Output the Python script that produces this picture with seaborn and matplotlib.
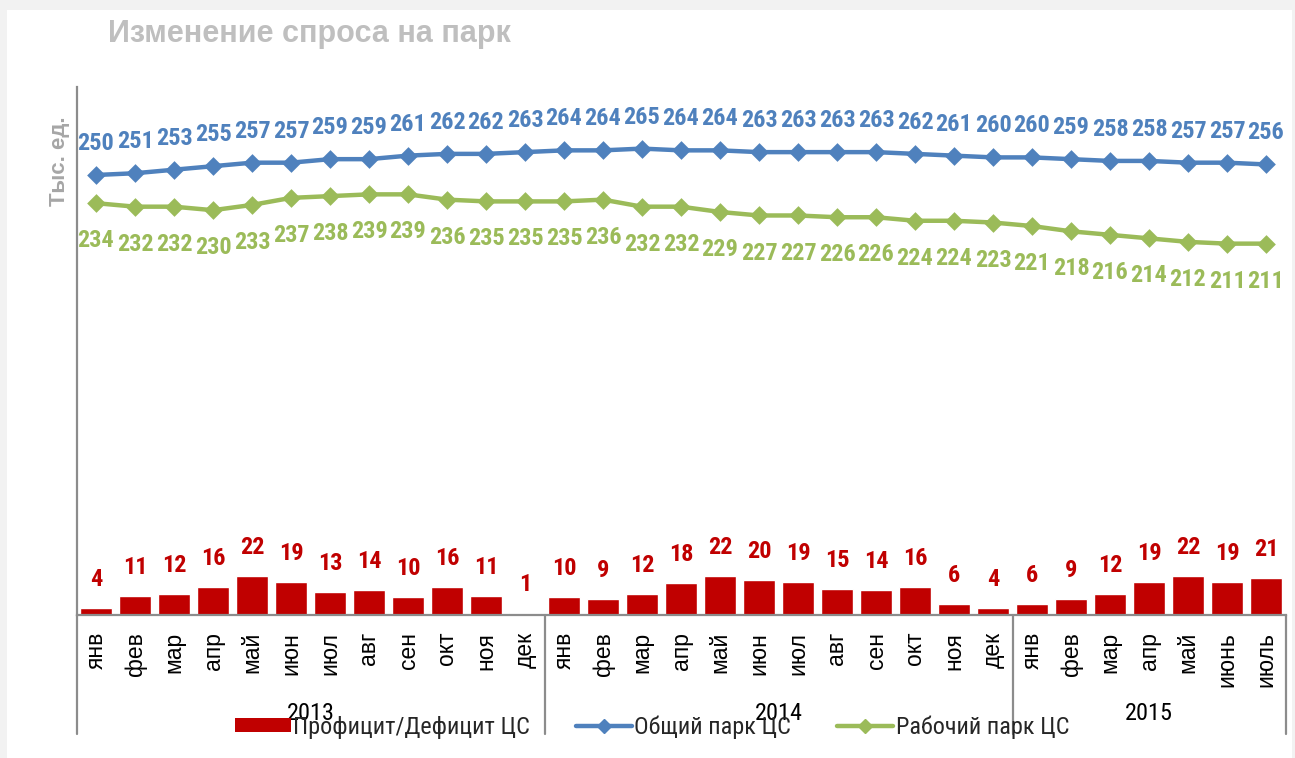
import matplotlib
matplotlib.use('Agg')
import matplotlib.pyplot as plt
from matplotlib.patches import Rectangle, Patch
from matplotlib.lines import Line2D
from matplotlib.transforms import blended_transform_factory
import pandas as pd
import seaborn as sns

# Data
years = ['2013', '2014', '2015']
months_2013 = ['янв', 'фев', 'мар', 'апр', 'май', 'июн', 'июл', 'авг', 'сен', 'окт', 'ноя', 'дек']
months_2014 = ['янв', 'фев', 'мар', 'апр', 'май', 'июн', 'июл', 'авг', 'сен', 'окт', 'ноя', 'дек']
months_2015 = ['янв', 'фев', 'мар', 'апр', 'май', 'июнь', 'июль']

total_park = [250, 251, 253, 255, 257, 257, 259, 259, 261, 262, 262, 263,
              264, 264, 265, 264, 264, 263, 263, 263, 263, 262, 261, 260,
              260, 259, 258, 258, 257, 257, 256]
working_park = [234, 232, 232, 230, 233, 237, 238, 239, 239, 236, 235, 235,
                235, 236, 232, 232, 229, 227, 227, 226, 226, 224, 224, 223,
                221, 218, 216, 214, 212, 211, 211]
surplus = [4, 11, 12, 16, 22, 19, 13, 14, 10, 16, 11, 1,
           10, 9, 12, 18, 22, 20, 19, 15, 14, 16, 6, 4,
           6, 9, 12, 19, 22, 19, 21]

series_names = ['Профицит/Дефицит ЦС', 'Общий парк ЦС', 'Рабочий парк ЦС']

# Build table
groups = [months_2013, months_2014, months_2015]
month_labels = [m for g in groups for m in g]
year_of = [y for y, g in zip(years, groups) for _ in g]
df = pd.DataFrame({
    'period': [f'{y} {m} {i}' for i, (y, m) in enumerate(zip(year_of, month_labels))],
    'total': total_park,
    'working': working_park,
    'surplus': surplus,
})
n = len(df)

RED = '#C00000'
BLUE = '#4F81BD'
GREEN = '#9BBB59'
AXIS_GREY = '#8C8C8C'

sns.set_style('white')
NARROW = ['Roboto Condensed', 'Liberation Sans', 'DejaVu Sans']
WIDE = ['Liberation Sans', 'DejaVu Sans']
plt.rcParams['font.family'] = NARROW

W, H = 1295, 758
fig = plt.figure(figsize=(W / 100, H / 100), dpi=100, facecolor='#F2F2F2')
fig.patches.append(Rectangle((7 / W, 0), (1292 - 7) / W, 1 - 10 / H,
                             transform=fig.transFigure, facecolor='white',
                             edgecolor='none', zorder=-10))

ax_left, ax_right, ax_top, ax_bottom = 76.5, 1285.5, 87, 615
ax = fig.add_axes([ax_left / W, 1 - ax_bottom / H,
                   (ax_right - ax_left) / W, (ax_bottom - ax_top) / H])
ax.set_facecolor('white')

sns.barplot(data=df, x='period', y='surplus', color=RED, saturation=1,
            width=0.82, ax=ax)
sns.pointplot(data=df, x='period', y='total', color=BLUE, errorbar=None,
              marker='D', markersize=7.5, linewidth=3.2, ax=ax)
sns.pointplot(data=df, x='period', y='working', color=GREEN, errorbar=None,
              marker='D', markersize=7.5, linewidth=3.2, ax=ax)

ax.set_ylim(0, 300)
ax.set_xlim(-0.5, n - 0.5)
ax.set_yticks([])
ax.set_xlabel('')
ax.set_ylabel('')

# data labels
lab = dict(textcoords='offset points', ha='center', va='baseline',
           fontsize=17.5, fontweight='bold')
for i, v in enumerate(surplus):
    ax.annotate(str(v), (i, v), xytext=(0, 15.8), color=RED, **lab)
for i, v in enumerate(total_park):
    ax.annotate(str(v), (i, v), xytext=(0, 18), color=BLUE, **lab)
for i, v in enumerate(working_park):
    ax.annotate(str(v), (i, v), xytext=(0, -31.7), color=GREEN, **lab)

# category axis
ax.set_xticks(range(n))
ax.set_xticklabels(month_labels, rotation=90, fontsize=16.5, family=WIDE)
ax.tick_params(axis='x', length=0, pad=12, colors='black')
for side in ['top', 'right']:
    ax.spines[side].set_visible(False)
for side in ['left', 'bottom']:
    ax.spines[side].set_color(AXIS_GREY)
    ax.spines[side].set_linewidth(1.6)

trans = blended_transform_factory(ax.transData, fig.transFigure)
bounds = [-0.5]
for g in groups:
    bounds.append(bounds[-1] + len(g))
for b in bounds:
    ax.plot([b, b], [1 - ax_bottom / H, 1 - 734 / H], transform=trans,
            color=AXIS_GREY, lw=1.6, clip_on=False)
for y, lo, hi in zip(years, bounds[:-1], bounds[1:]):
    ax.text((lo + hi) / 2, 1 - 713 / H, y, transform=trans, ha='center',
            va='center', fontsize=17.5, color='black')

# title and axis label
fig.text(108 / W, 1 - 19 / H, 'Изменение спроса на парк', ha='left', va='top',
         fontsize=22, fontweight='bold', color='#BFBFBF', family=WIDE)
fig.text(60 / W, 1 - 161 / H, 'Тыс. ед.', rotation=90, ha='center',
         va='center', fontsize=16, fontweight='bold', color='#A6A6A6',
         family=WIDE)

# legend
handles = [
    Patch(facecolor=RED, edgecolor='none'),
    Line2D([], [], color=BLUE, lw=3.2, marker='D', markersize=7),
    Line2D([], [], color=GREEN, lw=3.2, marker='D', markersize=7),
]
fig.legend(handles, series_names, loc='center', bbox_to_anchor=(652 / W, 1 - 727 / H),
           ncol=3, frameon=False, fontsize=17.5, handlelength=2.3,
           handleheight=0.55, handletextpad=0.1, columnspacing=1.9)

fig.savefig('out.png', dpi=100, facecolor=fig.get_facecolor())
